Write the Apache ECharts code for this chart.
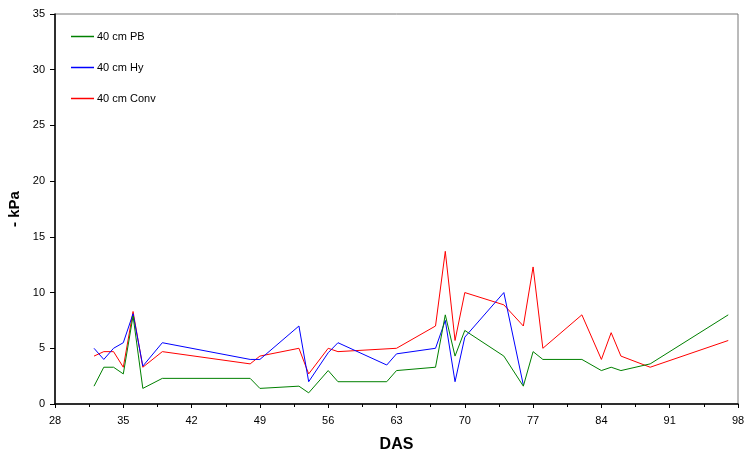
<!DOCTYPE html>
<html>
<head>
<meta charset="utf-8">
<script src="https://cdn.jsdelivr.net/npm/echarts@6/dist/echarts.min.js"></script>
<style>
  html, body { margin: 0; padding: 0; background: #fff; }
  #chart { width: 745px; height: 459px; }
</style>
</head>
<body>
<div id="chart"></div>
<script>
// Soil water tension at 40 cm depth, by days after sowing (DAS)
const xTicks = [28, 35, 42, 49, 56, 63, 70, 77, 84, 91, 98];
const yTicks = [0, 5, 10, 15, 20, 25, 30, 35];

const pbDays = [32, 33, 34, 35, 36, 37, 39, 48, 49, 53, 54, 56, 57, 62, 63, 67, 68, 69, 70, 74, 76, 77, 78, 82, 84, 85, 86, 89, 97];
const pbKpa  = [1.6, 3.3, 3.3, 2.7, 7.9, 1.4, 2.3, 2.3, 1.4, 1.6, 1.0, 3.0, 2.0, 2.0, 3.0, 3.3, 8.0, 4.3, 6.6, 4.3, 1.6, 4.7, 4.0, 4.0, 3.0, 3.3, 3.0, 3.6, 8.0];

const hyDays = [32, 33, 34, 35, 36, 37, 39, 48, 49, 53, 54, 56, 57, 62, 63, 67, 68, 69, 70, 74, 76];
const hyKpa  = [5.0, 4.0, 5.0, 5.5, 8.1, 3.4, 5.5, 4.0, 4.0, 7.0, 2.0, 4.6, 5.5, 3.5, 4.5, 5.0, 7.5, 2.0, 6.0, 10.0, 1.7];

const convDays = [32, 33, 34, 35, 36, 37, 39, 48, 49, 53, 54, 56, 57, 63, 67, 68, 69, 70, 74, 76, 77, 78, 82, 84, 85, 86, 89, 97];
const convKpa  = [4.3, 4.7, 4.7, 3.3, 8.3, 3.3, 4.7, 3.6, 4.3, 5.0, 2.7, 5.0, 4.7, 5.0, 7.0, 13.7, 5.7, 10.0, 8.9, 7.0, 12.3, 5.0, 8.0, 4.0, 6.4, 4.3, 3.3, 5.7];

const seriesNames = ['40 cm PB', '40 cm Hy', '40 cm Conv'];
const seriesColors = ['#008000', '#0000ff', '#ff0000'];

const pairs = (xs, ys) => xs.map((x, i) => [x, ys[i]]);
const seriesData = [pairs(pbDays, pbKpa), pairs(hyDays, hyKpa), pairs(convDays, convKpa)];

const font = 'Liberation Sans, Arial, sans-serif';
const chart = echarts.init(document.getElementById('chart'), null, { renderer: 'canvas' });

chart.setOption({
  animation: false,
  backgroundColor: '#ffffff',
  grid: {
    left: 55, right: 7, top: 14, bottom: 55,
    outerBoundsMode: 'none',
    show: true, borderColor: '#777777', borderWidth: 1, backgroundColor: 'transparent'
  },
  legend: {
    orient: 'vertical',
    left: 66, top: 25,
    icon: 'rect',
    itemWidth: 23, itemHeight: 1.5, itemGap: 18,
    data: seriesNames,
    textStyle: { fontFamily: font, fontSize: 11, color: '#000', padding: [0, 0, 0, -2], lineHeight: 13 }
  },
  xAxis: {
    type: 'value',
    min: xTicks[0], max: xTicks[xTicks.length - 1], interval: 7,
    name: 'DAS', nameLocation: 'middle', nameGap: 33,
    nameTextStyle: { fontFamily: font, fontSize: 16, fontWeight: 'bold', color: '#000' },
    axisLine: { show: true, onZero: false, lineStyle: { color: '#000', width: 1.5 } },
    axisTick: { show: true, inside: false, length: 4, lineStyle: { color: '#000' } },
    minorTick: { show: true, splitNumber: 2, length: 3, lineStyle: { color: '#000' } },
    axisLabel: { fontFamily: font, fontSize: 11, color: '#000', margin: 11 },
    splitLine: { show: false }
  },
  yAxis: {
    type: 'value',
    min: yTicks[0], max: yTicks[yTicks.length - 1], interval: 5,
    name: '- kPa', nameLocation: 'middle', nameGap: 26, nameRotate: 90,
    nameTextStyle: { fontFamily: font, fontSize: 15, fontWeight: 'bold', color: '#000' },
    axisLine: { show: true, onZero: false, lineStyle: { color: '#000', width: 1.5 } },
    axisTick: { show: true, inside: false, length: 5, lineStyle: { color: '#000' } },
    axisLabel: { fontFamily: font, fontSize: 11, color: '#000', margin: 10 },
    splitLine: { show: false }
  },
  series: seriesNames.map((name, i) => ({
    name,
    type: 'line',
    data: seriesData[i],
    symbol: 'none',
    color: seriesColors[i],
    lineStyle: { color: seriesColors[i], width: 1 },
    z: 3 - i
  }))
});
</script>
</body>
</html>
